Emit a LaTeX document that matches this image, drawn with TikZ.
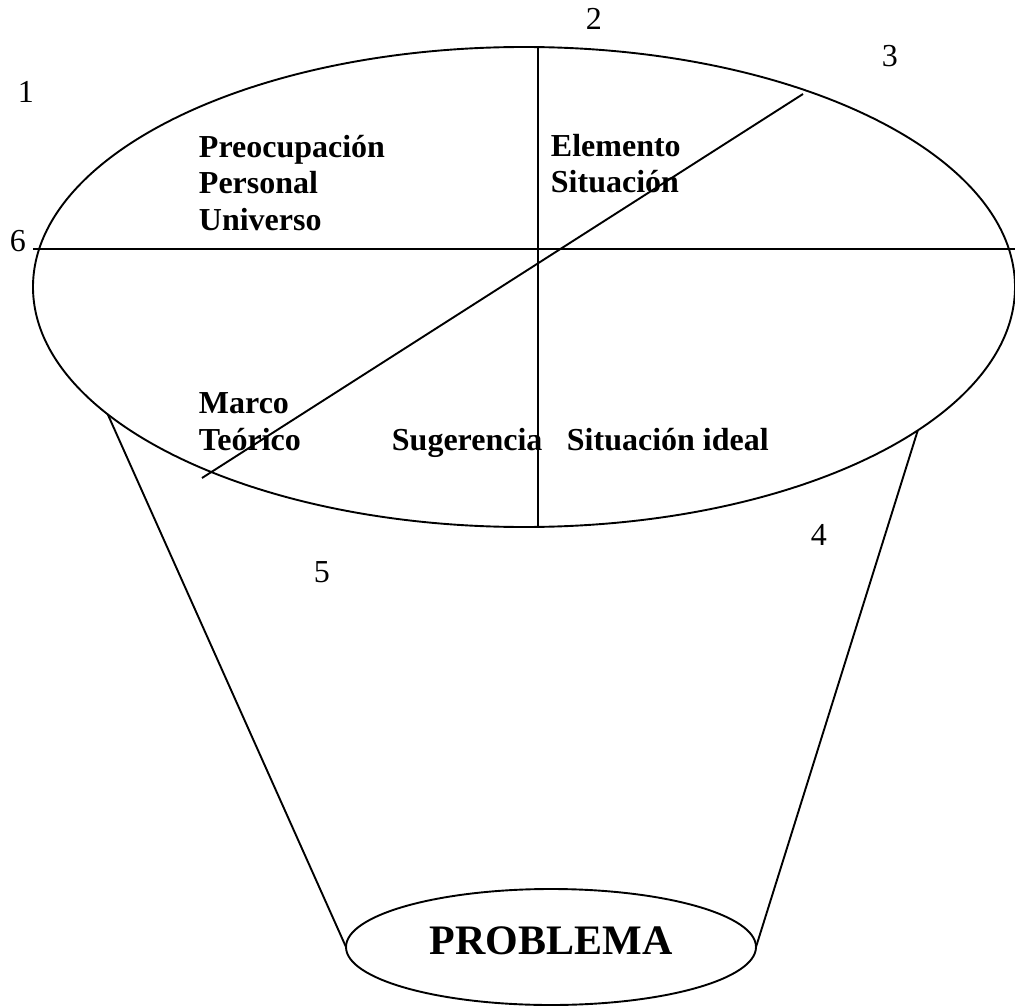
\documentclass[tikz,border=0pt]{standalone}
\usepackage{fontspec}
\setmainfont{Liberation Serif}
\usetikzlibrary{shapes.geometric}

\begin{document}
\begin{tikzpicture}[x=1pt,y=-1pt,line width=1.9pt,
  oval/.style={draw,ellipse,inner sep=0,outer sep=0},
  txt/.style={font=\bfseries\fontsize{32}{36.5}\selectfont,align=left,anchor=base west,inner sep=0},
  num/.style={font=\fontsize{32}{36}\selectfont,anchor=base west,inner sep=0}]
\useasboundingbox (0,0) rectangle (1015,1006);
\node[oval,minimum width=982pt,minimum height=480pt] (cup) at (524,287) {};
\node[oval,minimum width=410pt,minimum height=116pt,text depth=12pt,font=\bfseries\fontsize{42}{42}\selectfont] (prob) at (551,947) {PROBLEMA};
\coordinate (h1) at (33,249); \coordinate (h2) at (1015,249);
\coordinate (v1) at (538,47); \coordinate (v2) at (538,527);
\coordinate (d1) at (803,94); \coordinate (d2) at (202,478);
\draw (h1)--(h2);
\draw (v1)--(v2);
\draw (d1)--(d2);
\draw (cup.197)--(prob.west);
\draw (cup.340)--(prob.east);
% base = last line of the node
\node[txt] (t1) at (198,230) {Preocupación\\Personal\\Universo};
\node[txt] (t2) at (550,193) {Elemento\\Situación};
\node[txt] (t3) at (198,450) {Marco\\Teórico};
\node[txt] (t4) at (391,450) {Sugerencia};
\node[txt] (t5) at (566,450) {Situación ideal};
\foreach \n/\x/\y in {1/17/103,2/585/30,3/881/67,4/810/545,5/313/582,6/9/251}
  \node[num] (n\n) at (\x,\y) {\n};
\end{tikzpicture}
\end{document}
